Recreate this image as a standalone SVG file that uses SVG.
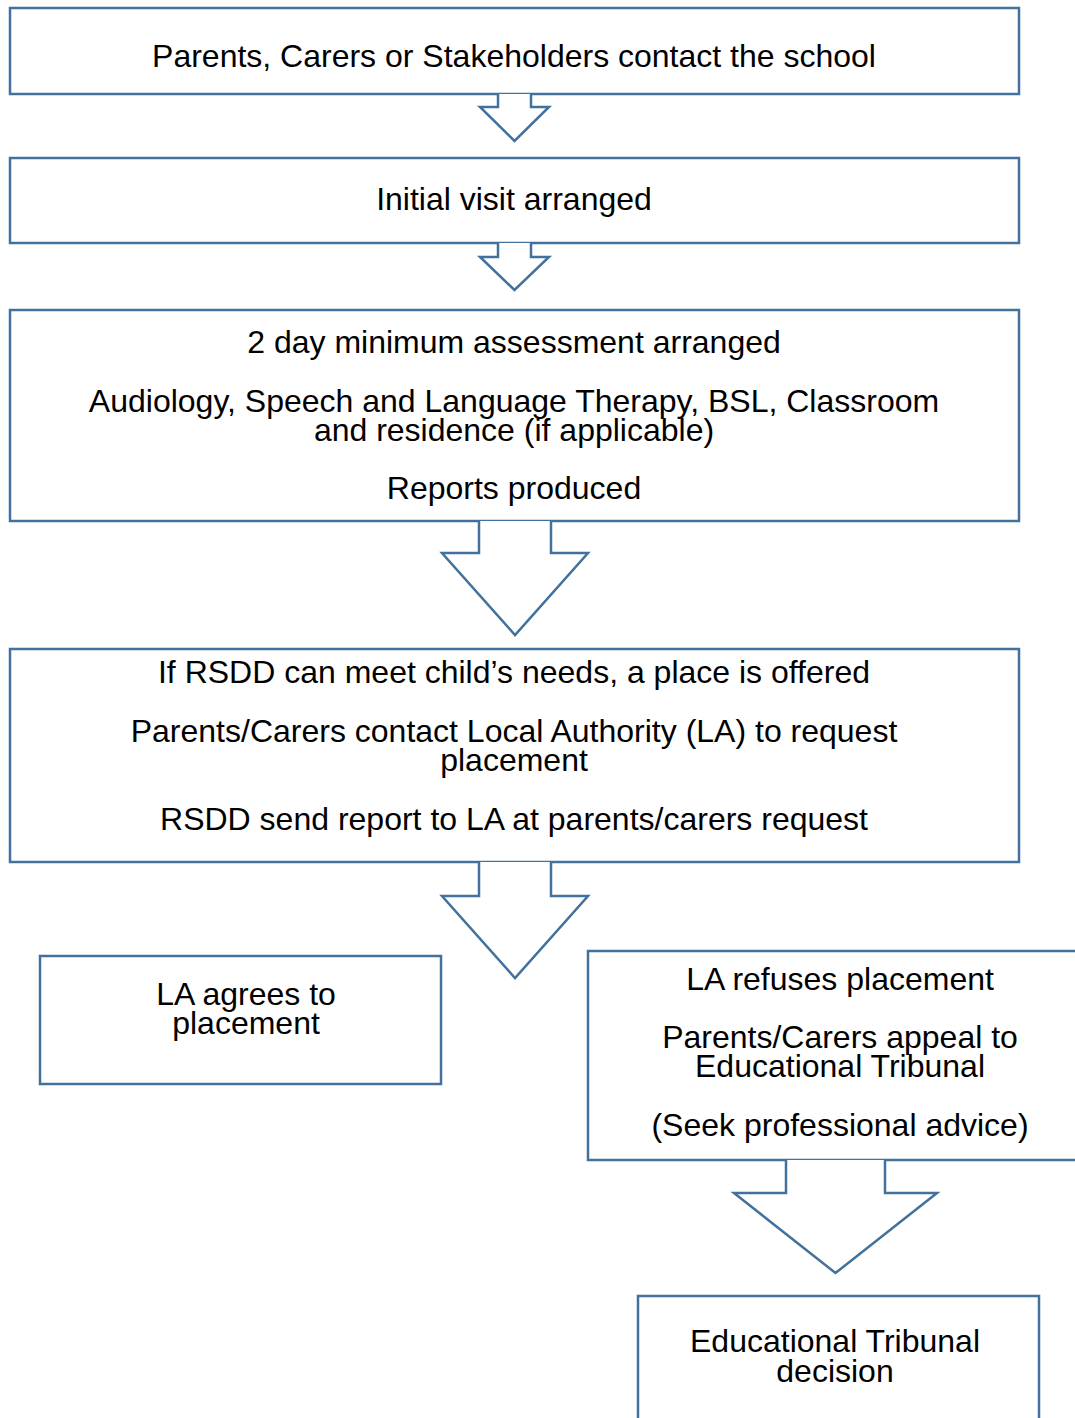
<svg xmlns="http://www.w3.org/2000/svg" width="1075" height="1418" viewBox="0 0 1075 1418">
<style>
.box{fill:#fff;stroke:#41719c;stroke-width:2.5}
.arr{fill:#fff;stroke:#41719c;stroke-width:2.5;stroke-linejoin:miter}
text{font-family:"Liberation Sans",Arial,sans-serif;font-size:32px;fill:#000;text-anchor:middle}
</style>
<rect width="1075" height="1418" fill="#fff"/>
<g id="n1"><rect class="box" x="10" y="8" width="1009" height="86"/>
<text x="514" y="67">Parents, Carers or Stakeholders contact the school</text></g>
<g id="n2"><rect class="box" x="10" y="158" width="1009" height="85"/>
<text x="514" y="210">Initial visit arranged</text></g>
<g id="n3"><rect class="box" x="10" y="310" width="1009" height="211"/>
<text x="514" y="353">2 day minimum assessment arranged</text>
<text x="514" y="412">Audiology, Speech and Language Therapy, BSL, Classroom</text>
<text x="514" y="441">and residence (if applicable)</text>
<text x="514" y="499">Reports produced</text></g>
<g id="n4"><rect class="box" x="10" y="649" width="1009" height="213"/>
<text x="514" y="683">If RSDD can meet child’s needs, a place is offered</text>
<text x="514" y="742">Parents/Carers contact Local Authority (LA) to request</text>
<text x="514" y="771">placement</text>
<text x="514" y="830">RSDD send report to LA at parents/carers request</text></g>
<g id="n5"><rect class="box" x="40" y="956" width="401" height="128"/>
<text x="246" y="1005">LA agrees to</text>
<text x="246" y="1034">placement</text></g>
<g id="n6"><rect class="box" x="588" y="951" width="502" height="209"/>
<text x="840" y="990">LA refuses placement</text>
<text x="840" y="1048">Parents/Carers appeal to</text>
<text x="840" y="1077">Educational Tribunal</text>
<text x="840" y="1136">(Seek professional advice)</text></g>
<g id="n7"><rect class="box" x="638" y="1296" width="401" height="140"/>
<text x="835" y="1352">Educational Tribunal</text>
<text x="835" y="1382">decision</text></g>
<g id="connectors">
<path class="arr" d="M498 94 L498 107 L480 107 L514.5 141 L549 107 L531 107 L531 94"/>
<path class="arr" d="M498 243 L498 257 L480 257 L514.5 290 L549 257 L531 257 L531 243"/>
<path class="arr" d="M479 521 L479 553 L442 553 L515 635 L588 553 L551 553 L551 521"/>
<path class="arr" d="M479 862 L479 896 L442 896 L515 978 L588 896 L551 896 L551 862"/>
<path class="arr" d="M786 1160 L786 1193 L734 1193 L835.5 1273 L937 1193 L885 1193 L885 1160"/>
</g>
</svg>
